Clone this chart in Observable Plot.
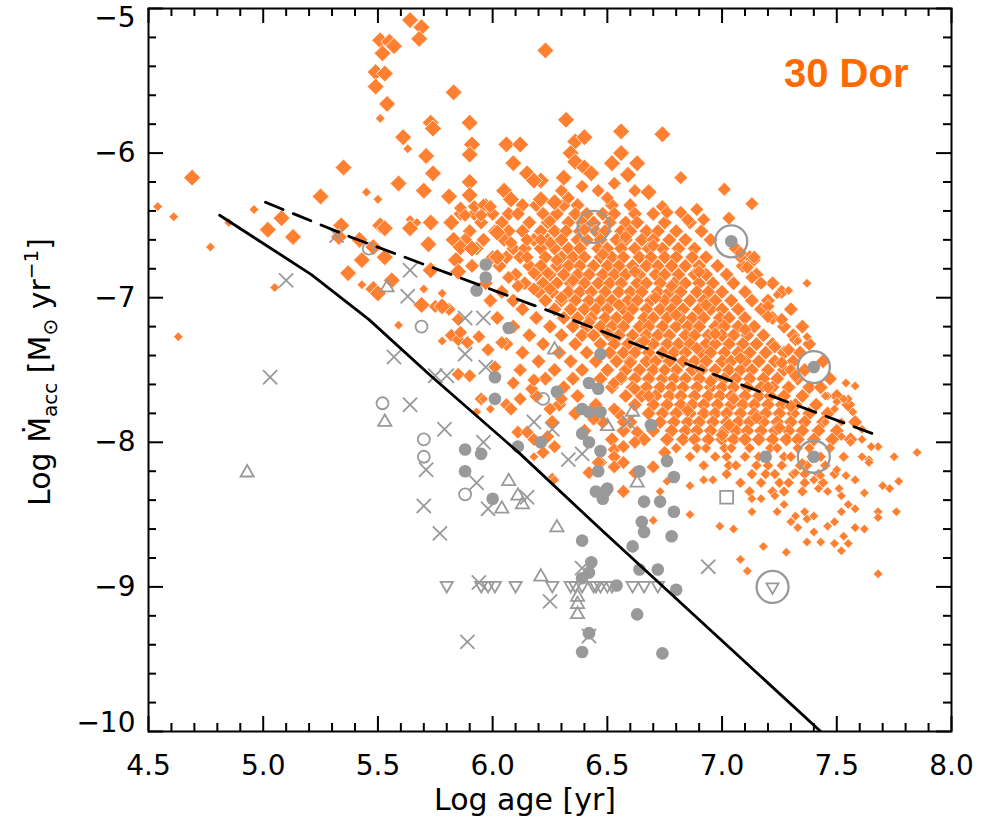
<!DOCTYPE html>
<html><head><meta charset="utf-8">
<script src="https://cdn.jsdelivr.net/npm/d3@7"></script>
<script src="https://cdn.jsdelivr.net/npm/@observablehq/plot@0.6"></script>
<style>body{margin:0;background:#fff}#chart svg{display:block}</style>
</head><body><div id="chart"></div>
<script>
// ---------- data (Log age [yr], Log Macc) ----------
const orangeLarge = [[5.64,-5.08],[5.69,-5.13],[5.68,-5.21],[5.51,-5.22],[5.55,-5.23],[5.57,-5.26],[5.52,-5.31],[5.49,-5.44],[5.53,-5.45],[5.49,-5.54],[5.54,-5.66],[6.23,-5.29],[5.83,-5.58],[5.73,-5.79],[5.74,-5.83],[5.90,-5.79],[5.61,-5.89],[5.91,-5.94],[5.90,-6.01],[6.06,-5.94],[6.12,-5.94],[5.71,-6.02],[6.09,-6.07],[5.74,-6.14],[5.35,-6.10],[6.15,-6.14],[6.21,-6.19],[6.18,-6.19],[4.69,-6.17],[5.59,-6.21],[5.90,-6.20],[5.70,-6.26],[5.25,-6.30],[5.81,-6.30],[5.90,-6.29],[6.05,-6.26],[6.08,-6.32],[6.21,-6.32],[6.27,-6.34],[6.32,-5.77],[6.56,-5.85],[6.74,-5.87],[6.36,-5.92],[6.40,-5.89],[6.34,-6.00],[6.36,-6.06],[6.52,-6.07],[6.56,-6.00],[6.63,-6.07],[6.31,-6.17],[6.40,-6.10],[6.43,-6.14],[6.59,-6.15],[6.68,-6.27],[5.08,-6.45],[5.02,-6.53],[5.13,-6.58],[5.34,-6.50],[5.33,-6.58],[5.51,-6.50],[5.53,-6.52],[5.64,-6.52],[5.73,-6.48],[5.82,-6.48],[5.42,-6.60],[5.48,-6.65],[5.43,-6.74],[5.53,-6.72],[5.72,-6.63],[5.83,-6.60],[5.86,-6.65],[5.91,-6.66],[6.02,-6.55],[6.02,-6.72],[5.37,-6.83],[5.48,-6.94],[5.56,-6.88],[5.50,-6.97],[5.73,-6.81],[5.84,-6.74],[5.85,-6.82],[5.69,-7.05],[5.78,-7.06]];

const orangeMedium = [[6.82,-6.17],[7.01,-6.25],[7.13,-6.35],[6.07,-6.86],[6.11,-6.92],[6.18,-6.83],[6.24,-6.83],[6.18,-6.94],[6.25,-6.94],[6.25,-6.62],[6.28,-6.74],[6.08,-6.62],[6.15,-6.60],[6.21,-6.60],[5.86,-6.38],[5.92,-6.37],[5.96,-6.36],[5.99,-6.37],[5.88,-6.43],[5.95,-6.43],[5.82,-7.26],[5.85,-7.29],[5.85,-7.53],[5.90,-7.54],[5.95,-7.70],[6.06,-7.74],[6.11,-7.93],[6.57,-8.34],[6.47,-8.14],[6.53,-8.05],[5.86,-7.24],[5.89,-7.31],[5.94,-7.27],[5.98,-7.36],[6.01,-7.48],[6.04,-7.31],[6.09,-7.59],[6.12,-7.50],[6.17,-7.63],[6.18,-7.57],[6.08,-7.77],[6.12,-7.70],[6.25,-7.77],[6.30,-7.70],[5.81,-7.08],[5.75,-7.06],[5.85,-7.15],[6.15,-7.93],[6.18,-7.98],[6.24,-7.96],[6.27,-8.03],[6.22,-8.07],[6.53,-7.59],[6.56,-7.55],[6.62,-7.63],[6.44,-7.84],[6.53,-7.77],[6.57,-7.86],[6.63,-7.93],[6.57,-8.03],[6.62,-8.00],[6.53,-8.10],[6.57,-8.14],[6.62,-8.21],[6.70,-8.17],[6.75,-8.07],[6.53,-8.17],[6.46,-8.14],[6.42,-8.21],[7.17,-6.90],[7.13,-6.86],[7.14,-6.74],[7.08,-6.72],[7.20,-7.06],[7.26,-7.15],[7.20,-7.13],[7.32,-7.29],[7.29,-7.36],[7.23,-7.34],[7.30,-7.50],[7.32,-7.54],[7.26,-7.45],[6.82,-6.41],[6.85,-6.46],[6.89,-6.39],[6.92,-6.46],[7.03,-6.45],[7.08,-6.69],[7.14,-6.72],[7.11,-6.79],[6.74,-6.37],[6.76,-6.41],[6.30,-6.26],[6.33,-6.31],[6.39,-6.23],[6.46,-6.26],[6.50,-6.31],[6.53,-6.21],[6.62,-6.26]];

// dense core, read row by row: [Log Macc, [Log age ...]]
const coreRows = [
 [-6.36,[5.97,6.13,6.19,6.31,6.37,6.52,6.60]],
 [-6.42,[5.86,5.92,6.00,6.07,6.11,6.22,6.28,6.36,6.41,6.48,6.53,6.62,6.70]],
 [-6.48,[5.95,6.04,6.16,6.24,6.33,6.39,6.44,6.51,6.58,6.63,6.75,6.86]],
 [-6.54,[5.90,6.01,6.07,6.13,6.21,6.27,6.32,6.38,6.45,6.49,6.56,6.60,6.67,6.72,6.80,6.91]],
 [-6.60,[5.88,5.96,6.05,6.18,6.24,6.30,6.37,6.41,6.47,6.54,6.58,6.65,6.70,6.77,6.84,6.95]],
 [-6.66,[5.93,6.09,6.14,6.21,6.27,6.33,6.38,6.46,6.50,6.56,6.62,6.68,6.74,6.81,6.88,7.06]],
 [-6.72,[6.00,6.06,6.12,6.23,6.30,6.35,6.40,6.47,6.52,6.57,6.64,6.69,6.75,6.80,6.87,6.93,7.12]],
 [-6.78,[5.91,6.03,6.16,6.21,6.28,6.33,6.38,6.44,6.50,6.55,6.61,6.67,6.72,6.78,6.84,6.90,6.98,7.09]],
 [-6.84,[6.10,6.19,6.25,6.31,6.37,6.42,6.48,6.53,6.58,6.64,6.71,6.75,6.81,6.88,6.93,7.02,7.15]],
 [-6.90,[5.97,6.14,6.22,6.28,6.34,6.40,6.46,6.51,6.56,6.63,6.67,6.73,6.79,6.84,6.90,6.96,7.05,7.22]],
 [-6.96,[6.04,6.20,6.26,6.33,6.38,6.43,6.49,6.55,6.60,6.65,6.72,6.77,6.82,6.89,6.94,7.00,7.10,7.26]],
 [-7.02,[5.99,6.09,6.23,6.30,6.36,6.42,6.47,6.52,6.59,6.63,6.69,6.75,6.80,6.86,6.92,6.97,7.04,7.13,7.20]],
 [-7.08,[6.13,6.27,6.34,6.40,6.45,6.50,6.57,6.61,6.67,6.73,6.78,6.83,6.90,6.95,7.00,7.07,7.17,7.30]],
 [-7.14,[6.02,6.19,6.31,6.37,6.43,6.49,6.54,6.59,6.66,6.70,6.76,6.82,6.87,6.92,6.99,7.03,7.10,7.22]],
 [-7.20,[6.09,6.25,6.35,6.41,6.47,6.52,6.57,6.64,6.68,6.74,6.80,6.85,6.90,6.97,7.01,7.07,7.14,7.27,7.35]],
 [-7.26,[6.16,6.30,6.39,6.44,6.51,6.55,6.61,6.67,6.72,6.77,6.84,6.88,6.94,7.00,7.05,7.11,7.18,7.31]],
 [-7.32,[6.06,6.22,6.36,6.47,6.53,6.59,6.64,6.70,6.76,6.81,6.86,6.93,6.97,7.03,7.09,7.15,7.22,7.38]],
 [-7.38,[6.13,6.29,6.41,6.51,6.57,6.62,6.68,6.74,6.79,6.84,6.91,6.95,7.01,7.07,7.12,7.19,7.27,7.34]],
 [-7.44,[6.20,6.34,6.45,6.54,6.60,6.67,6.71,6.77,6.83,6.88,6.93,7.00,7.04,7.10,7.16,7.23,7.31,7.44]],
 [-7.50,[6.12,6.27,6.39,6.50,6.58,6.64,6.70,6.75,6.80,6.87,6.91,6.97,7.03,7.08,7.13,7.20,7.27,7.36]],
 [-7.56,[6.23,6.35,6.47,6.56,6.62,6.68,6.74,6.79,6.84,6.90,6.96,7.01,7.06,7.12,7.18,7.24,7.33,7.47]],
 [-7.62,[6.31,6.52,6.61,6.67,6.73,6.78,6.83,6.89,6.95,7.00,7.05,7.11,7.17,7.22,7.29,7.38,7.43]],
 [-7.68,[6.19,6.37,6.58,6.65,6.71,6.77,6.82,6.88,6.94,6.99,7.04,7.10,7.16,7.21,7.27,7.35,7.50]],
 [-7.74,[6.29,6.45,6.62,6.70,6.76,6.82,6.87,6.92,6.98,7.04,7.09,7.14,7.20,7.26,7.32,7.41,7.55]],
 [-7.80,[6.36,6.55,6.68,6.74,6.80,6.86,6.92,6.97,7.02,7.08,7.14,7.19,7.25,7.31,7.38,7.46]],
 [-7.86,[6.26,6.48,6.60,6.73,6.79,6.85,6.90,6.96,7.02,7.07,7.12,7.18,7.24,7.30,7.36,7.44,7.58]],
 [-7.92,[6.40,6.57,6.70,6.78,6.84,6.89,6.95,7.01,7.06,7.11,7.17,7.23,7.29,7.35,7.42,7.50]],
 [-7.98,[6.52,6.66,6.76,6.83,6.88,6.94,7.00,7.05,7.10,7.16,7.22,7.28,7.33,7.40,7.48,7.56]]
];
// extra core diamonds lying between the rows
const coreExtra = [[6.48,-6.70],[6.62,-6.82],[6.71,-7.00],[6.80,-7.12],[6.55,-7.05],[6.66,-7.30],[6.89,-7.35],[6.95,-7.58],[7.05,-7.70],[7.15,-7.83],[6.75,-7.50],[6.85,-7.78],[7.00,-7.95],[6.35,-6.88],[6.42,-7.17],[6.58,-6.58],[6.70,-6.64],[6.90,-6.82],[6.97,-7.25],[7.08,-7.42],[7.20,-7.62],[7.25,-7.90],[6.60,-7.45],[6.50,-7.25],[6.30,-7.00],[6.25,-6.47],[6.15,-6.72],[6.40,-6.53],[7.10,-7.22],[6.78,-6.92],[6.93,-7.05],[7.03,-7.88],[7.30,-7.75],[6.68,-7.68],[6.88,-7.98]];

const lowerRows = [
 [-8.04,[6.80,6.89,6.93,7.01,7.04,7.12,7.21,7.24,7.33,7.38,7.47]],
 [-8.10,[6.86,6.97,7.02,7.10,7.16,7.27,7.30,7.39,7.43,7.53]],
 [-8.16,[6.92,7.03,7.06,7.15,7.20,7.26,7.34,7.37,7.45]],
 [-8.22,[7.02,7.13,7.19,7.23,7.31,7.36,7.42,7.49]],
 [-8.28,[7.08,7.17,7.25,7.29,7.36,7.44]],
 [-8.34,[7.12,7.22,7.27,7.35]]
];

const orangeSmall = [[5.51,-5.76],[5.63,-5.97],[5.45,-6.27],[5.50,-6.32],[4.54,-6.37],[4.61,-6.44],[4.96,-6.39],[4.85,-6.48],[4.77,-6.65],[4.63,-7.27],[5.05,-6.93],[5.64,-6.46],[5.67,-6.48],[5.43,-6.91],[5.70,-6.94],[5.78,-6.97],[5.59,-7.19],[5.78,-7.30],[5.93,-7.79],[6.18,-8.10],[6.26,-8.24],[5.96,-7.70],[5.99,-7.77],[6.27,-8.26],[7.85,-8.07],[7.75,-8.10],[7.77,-8.27],[7.73,-8.32],[7.70,-8.30],[7.76,-8.48],[7.68,-8.48],[7.68,-8.52],[7.68,-8.91],[7.68,-8.03],[7.64,-8.12],[7.61,-7.98],[7.58,-8.26],[7.62,-8.35],[7.52,-8.37],[7.55,-8.43],[7.58,-8.46],[7.52,-8.48],[7.49,-8.55],[7.46,-8.58],[7.62,-8.60],[7.58,-8.59],[7.53,-8.65],[7.49,-8.70],[7.52,-8.75],[7.55,-8.70],[7.40,-8.62],[7.37,-8.69],[7.43,-8.69],[7.36,-8.48],[7.40,-8.51],[7.32,-8.51],[7.28,-8.76],[7.18,-8.72],[7.08,-8.81],[7.11,-8.89],[6.99,-8.58],[7.05,-8.60],[6.86,-8.50],[7.13,-8.39],[7.17,-8.39],[7.13,-8.48],[7.23,-8.37],[7.27,-8.43],[7.24,-8.48],[7.42,-8.32],[7.46,-8.34],[7.51,-8.32],[7.30,-8.55],[7.33,-8.59],[7.37,-8.53],[6.70,-8.54],[6.92,-8.26],[6.96,-8.26],[6.86,-8.30],[6.73,-8.34],[6.76,-8.27],[7.54,-7.59],[7.58,-7.61],[7.46,-7.68],[7.50,-7.72],[7.55,-7.70],[7.57,-7.79],[7.49,-7.77],[7.45,-7.86],[7.52,-7.86],[7.61,-7.91],[7.65,-8.03],[7.52,-7.96],[7.56,-8.00],[7.61,-8.10],[7.64,-8.14],[7.50,-8.19],[7.54,-8.23],[7.43,-8.23],[7.40,-8.26],[7.35,-8.14],[7.32,-8.21],[7.45,-7.68],[7.53,-7.70],[7.37,-6.90],[7.29,-6.95],[7.24,-6.98],[7.37,-7.27],[7.33,-7.30]];

const grayFilled = [[5.97,-6.77],[5.97,-6.86],[5.93,-6.95],[6.07,-7.21],[6.01,-7.55],[6.01,-7.70],[6.28,-7.65],[6.47,-7.39],[6.42,-7.59],[6.46,-7.63],[6.39,-7.77],[6.42,-7.79],[6.47,-7.79],[6.69,-7.88],[6.39,-7.94],[6.42,-8.00],[6.21,-8.00],[6.11,-8.03],[6.47,-8.06],[6.76,-8.13],[6.79,-8.24],[5.88,-8.05],[5.95,-8.08],[5.88,-8.20],[6.46,-8.20],[6.64,-8.20],[6.45,-8.34],[6.49,-8.34],[6.50,-8.32],[6.48,-8.39],[6.00,-8.39],[6.66,-8.41],[6.73,-8.41],[6.79,-8.48],[6.65,-8.55],[6.66,-8.62],[6.78,-8.65],[6.39,-8.68],[6.61,-8.72],[6.43,-8.83],[6.42,-8.90],[6.39,-8.94],[6.64,-8.88],[6.72,-8.88],[6.54,-8.99],[6.80,-9.02],[6.63,-9.19],[6.42,-9.32],[6.39,-9.45],[6.74,-9.46],[7.19,-8.10],[7.40,-8.10],[7.04,-6.61],[7.40,-7.48]];
const grayOpen = [[5.46,-6.66],[5.69,-7.20],[5.52,-7.73],[5.70,-7.98],[5.70,-8.10],[5.88,-8.36],[6.22,-7.70]];
const grayTriUp = [[4.93,-8.21],[5.53,-7.86],[5.54,-6.93],[6.27,-7.36],[6.07,-8.27],[6.11,-8.37],[6.13,-8.43],[6.04,-8.46],[6.28,-8.59],[6.21,-8.93],[6.37,-9.07],[6.37,-9.12],[6.37,-9.19],[6.50,-7.89],[6.61,-7.79],[6.63,-8.28]];
const grayTriDown = [[5.80,-8.99],[5.95,-8.99],[5.98,-8.99],[6.01,-8.99],[6.10,-8.99],[6.26,-8.99],[6.34,-8.99],[6.36,-8.99],[6.39,-8.99],[6.44,-8.99],[6.45,-8.99],[6.47,-8.99],[6.50,-8.99],[6.52,-8.99],[6.61,-8.99],[6.66,-8.99],[6.72,-8.99],[7.22,-9.00],[6.44,-6.51]];
const grayCross = [[5.10,-6.88],[5.32,-6.57],[5.64,-6.81],[5.63,-6.99],[5.88,-7.14],[5.96,-7.14],[5.03,-7.55],[5.57,-7.41],[5.64,-7.74],[5.79,-7.91],[5.75,-7.54],[5.80,-7.54],[5.88,-7.39],[5.97,-7.48],[5.96,-8.00],[6.18,-7.86],[6.26,-7.91],[6.33,-8.12],[6.39,-8.08],[5.71,-8.19],[5.93,-8.28],[5.70,-8.44],[6.15,-8.38],[5.98,-8.46],[5.77,-8.63],[5.94,-8.97],[6.25,-9.10],[5.89,-9.38],[6.39,-8.87],[6.94,-8.86],[6.42,-9.34],[6.59,-7.86]];
const graySquare = [[7.02,-8.38]];
const bigCircles = [[6.44,-6.51],[7.04,-6.61],[7.40,-7.48],[7.40,-8.10],[7.22,-9.00]];

const solidLine = [[4.81,-6.43],[5.21,-6.84],[5.46,-7.15],[5.73,-7.54],[6.12,-8.08],[6.47,-8.60],[7.43,-10.0]];
const dashedLine = [[5.01,-6.34],[5.38,-6.58],[5.82,-6.84],[6.26,-7.10],[7.03,-7.57],[7.69,-7.96]];

const xMajor = [4.5,5.0,5.5,6.0,6.5,7.0,7.5,8.0];
const yMajor = [-10,-9,-8,-7,-6,-5];
const xMinor = d3.range(45,81).map(v => v/10).filter(v => Math.abs(v*2 - Math.round(v*2)) > 1e-6);
const yMinor = d3.range(-50,-24).map(v => v/5).filter(v => Math.abs(v - Math.round(v)) > 1e-6);

// ---------- drawing ----------
const pts = a => a.map(([x,y]) => ({x,y}));
const rowsToPts = rows => rows.flatMap(([y,xs]) => xs.map(x => ({x,y})));
const ORANGE = "#ff8030", GRAY = "#999999";
const triDown = {draw(ctx,size){const r=Math.sqrt(size)*0.6824,t=r/2,u=r*Math.sqrt(3)/2;ctx.moveTo(0,r);ctx.lineTo(u,-t);ctx.lineTo(-u,-t);ctx.closePath();}};
const W=999,H=824,mL=148,mR=48,mT=8,mB=93,iW=W-mL-mR,iH=H-mT-mB;
const diamond = (data,r,sw=0.6) => Plot.dot(data,{x:"x",y:"y",symbol:"diamond2",r,fill:ORANGE,stroke:"white",strokeWidth:sw});
const fmtY = d => "\u2212" + Math.abs(d);
const yAxisOpts = {tickSize:0,tickPadding:13,tickFormat:fmtY,fontSize:28,label:null};

const chart = Plot.plot({
  width:W,height:H,marginLeft:mL,marginRight:mR,marginTop:mT,marginBottom:mB,
  x:{domain:[4.5,8.0]}, y:{domain:[-10,-5]},
  style:{fontFamily:"DejaVu Sans",background:"white",color:"black"},
  marks:[
    diamond(rowsToPts(coreRows),6.6),
    diamond(pts(coreExtra),6.2),
    diamond(pts(orangeMedium),6.2),
    diamond(rowsToPts(lowerRows),5.0),
    diamond(pts(orangeSmall),4.3),
    diamond(pts(orangeLarge),7.6,0.8),
    Plot.dot(pts(grayFilled),{x:"x",y:"y",r:6.3,fill:GRAY}),
    Plot.dot(pts(grayOpen),{x:"x",y:"y",r:6,stroke:GRAY,strokeWidth:1.8,fill:"none"}),
    Plot.dot(pts(grayTriUp),{x:"x",y:"y",symbol:"triangle2",r:6.3,stroke:GRAY,strokeWidth:1.8,fill:"none"}),
    Plot.dot(pts(grayTriDown),{x:"x",y:"y",symbol:triDown,r:5.8,stroke:GRAY,strokeWidth:1.8,fill:"none"}),
    Plot.dot(pts(grayCross),{x:"x",y:"y",symbol:"times",r:6.5,stroke:GRAY,strokeWidth:1.8}),
    Plot.dot(pts(graySquare),{x:"x",y:"y",symbol:"square",r:7.3,stroke:GRAY,strokeWidth:1.8,fill:"none"}),
    Plot.dot(pts(bigCircles),{x:"x",y:"y",r:16,stroke:GRAY,strokeWidth:2.3,fill:"none"}),
    Plot.line(pts(solidLine),{x:"x",y:"y",stroke:"black",strokeWidth:2.8,clip:true}),
    Plot.line(pts(dashedLine),{x:"x",y:"y",stroke:"black",strokeWidth:2.8,strokeDasharray:"19,11"}),
    Plot.frame({stroke:"black",strokeWidth:2}),
    Plot.ruleX(xMajor,{x:d=>d,insetTop:iH-15,stroke:"black",strokeWidth:2}),
    Plot.ruleX(xMajor,{x:d=>d,insetBottom:iH-15,stroke:"black",strokeWidth:2}),
    Plot.ruleX(xMinor,{x:d=>d,insetTop:iH-8,stroke:"black",strokeWidth:2}),
    Plot.ruleX(xMinor,{x:d=>d,insetBottom:iH-8,stroke:"black",strokeWidth:2}),
    Plot.ruleY(yMajor,{y:d=>d,insetRight:iW-15,stroke:"black",strokeWidth:2}),
    Plot.ruleY(yMajor,{y:d=>d,insetLeft:iW-15,stroke:"black",strokeWidth:2}),
    Plot.ruleY(yMinor,{y:d=>d,insetRight:iW-8,stroke:"black",strokeWidth:2}),
    Plot.ruleY(yMinor,{y:d=>d,insetLeft:iW-8,stroke:"black",strokeWidth:2}),
    Plot.axisX({ticks:xMajor,tickSize:0,tickPadding:24,tickFormat:d3.format(".1f"),fontSize:28,label:null}),
    Plot.axisY({...yAxisOpts,ticks:yMajor.filter(d => d > -10 && d < -5)}),
    Plot.axisY({...yAxisOpts,ticks:[yMajor[0]],dy:-8}),
    Plot.axisY({...yAxisOpts,ticks:[yMajor[yMajor.length-1]],dy:10}),
    Plot.text(["Log age [yr]"],{text:d=>d,frameAnchor:"bottom",lineAnchor:"top",dy:57,dx:-25,fontSize:30}),
    Plot.text(["30 Dor"],{text:d=>d,frameAnchor:"top-right",textAnchor:"end",lineAnchor:"top",dx:-43,dy:50,fontSize:40,fontWeight:"bold",fill:"#ff6a00",fontFamily:"Liberation Sans"})
  ]
});
document.getElementById("chart").appendChild(chart);

// y-axis title with sub/superscripts
const svg = d3.select(chart);
const t = svg.append("text").attr("transform","translate(50,372) rotate(-90)")
  .attr("text-anchor","middle").attr("font-family","DejaVu Sans").attr("font-size",30).attr("fill","black");
t.append("tspan").text("Log ");
t.append("tspan").text("\u1E40");
t.append("tspan").attr("font-size",20).attr("dy",7).text("acc");
t.append("tspan").attr("dy",-7).text(" [M");
t.append("tspan").attr("font-size",20).attr("dy",7).text("\u2299");
t.append("tspan").attr("dy",-7).text(" yr");
t.append("tspan").attr("font-size",20).attr("dy",-12).text("\u22121");
t.append("tspan").attr("dy",12).text("]");
</script></body></html>
